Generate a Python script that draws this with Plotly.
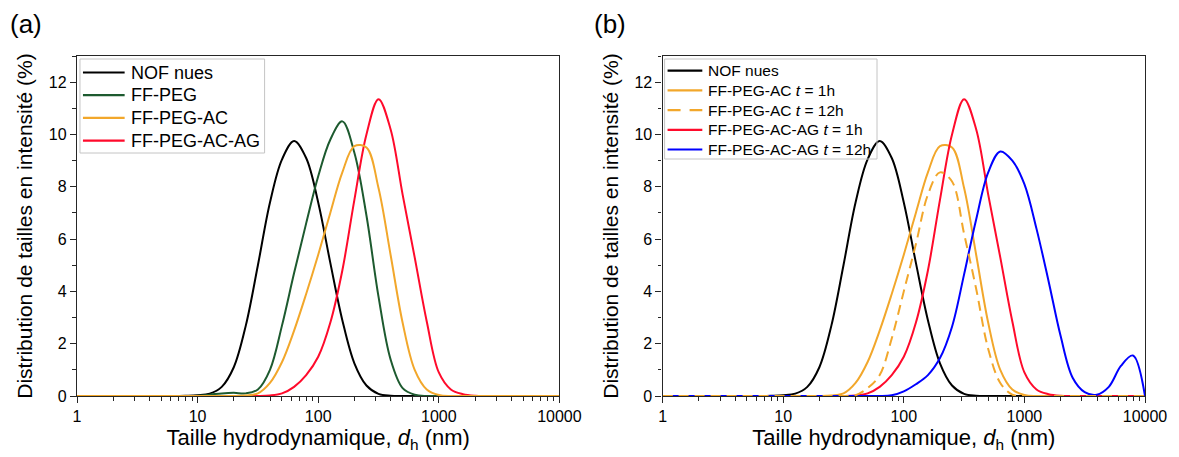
import plotly.graph_objects as go
from plotly.subplots import make_subplots

# Hydrodynamic diameter grid (nm), 0.1-decade steps from 1 to 10000
d_nm = [1, 1.259, 1.585, 1.995, 2.512, 3.162, 3.981, 5.012, 6.310, 7.943,
        10, 12.59, 15.85, 19.95, 25.12, 31.62, 39.81, 50.12, 63.10, 79.43,
        100, 125.9, 158.5, 199.5, 251.2, 316.2, 398.1, 501.2, 631.0, 794.3,
        1000, 1259, 1585, 1995, 2512, 3162, 3981, 5012, 6310, 7943, 10000]

# Intensity size distributions (%)
nof_nues = [0, 0, 0, 0, 0, 0, 0, 0, 0, 0.01,
            0.03, 0.09, 0.35, 1.1, 2.7, 5.0, 7.4, 9.05, 9.75, 9.1,
            7.4, 5.1, 2.9, 1.25, 0.4, 0.08, 0.01, 0, 0, 0,
            0, 0, 0, 0, 0, 0, 0, 0, 0, 0, 0]
ff_peg = [0, 0, 0, 0, 0, 0, 0, 0, 0, 0,
          0.01, 0.05, 0.1, 0.12, 0.1, 0.25, 1.0, 2.7, 4.7, 6.6,
          8.4, 9.8, 10.5, 9.3, 6.9, 3.8, 1.4, 0.3, 0.05, 0,
          0, 0, 0, 0, 0, 0, 0, 0, 0, 0, 0]
ff_peg_ac_1h = [0, 0, 0, 0, 0, 0, 0, 0, 0, 0,
                0, 0, 0, 0, 0.02, 0.1, 0.5, 1.3, 2.5, 3.9,
                5.4, 7.0, 8.55, 9.55, 9.5, 7.95, 5.4, 2.8, 1.0, 0.25,
                0.04, 0, 0, 0, 0, 0, 0, 0, 0, 0, 0]
ff_peg_ac_12h = [0, 0, 0, 0, 0, 0, 0, 0, 0, 0,
                 0, 0, 0, 0, 0, 0, 0.03, 0.3, 0.8, 2.2,
                 4.0, 5.8, 7.7, 8.55, 8.2, 6.2, 4.1, 1.8, 0.5, 0.05,
                 0, 0, 0, 0, 0, 0, 0, 0, 0, 0, 0]
ff_peg_ac_ag_1h = [0, 0, 0, 0, 0, 0, 0, 0, 0, 0,
                   0, 0, 0, 0, 0, 0, 0.02, 0.1, 0.35, 0.8,
                   1.5, 2.8, 4.8, 7.5, 10.0, 11.35, 10.2, 7.7, 5.3, 2.85,
                   0.9, 0.25, 0.07, 0.01, 0, 0, 0, 0, 0, 0, 0]
ff_peg_ac_ag_12h = [0, 0, 0, 0, 0, 0, 0, 0, 0, 0,
                    0, 0, 0, 0, 0, 0, 0, 0, 0, 0.03,
                    0.18, 0.45, 0.8, 1.45, 2.65, 4.65, 6.75, 8.55, 9.35, 9.0,
                    8.1, 6.4, 4.4, 2.3, 0.7, 0.15, 0.05, 0.35, 1.15, 1.55, 0]

x_tickvals = [1, 10, 100, 1000, 10000]
x_ticktext = ["1", "10", "100", "1000", "10000"]
x_minor = [m * 10 ** e for e in range(4) for m in range(2, 10)]
y_tickvals = [0, 2, 4, 6, 8, 10, 12]

BLACK = "#000000"
GREEN = "#1d5a2f"
ORANGE = "#f2a72b"
RED = "#ff0a2b"
BLUE = "#0000ff"
FONT = "Liberation Sans, Arial, sans-serif"

# Figure geometry (pixels) used to place legend boxes in paper coordinates
W, H = 1179, 457
ML, MR, MT, MB = 77, 26, 56, 61
PW, PH = W - ML - MR, H - MT - MB


def px(x):
    return (x - ML) / PW


def py(y):
    return (H - MB - y) / PH


fig = make_subplots(rows=1, cols=2, horizontal_spacing=0.0966)

# (series, name, color, dash) per panel, in legend order
panel_a = [
    (nof_nues, "NOF nues", BLACK, "solid"),
    (ff_peg, "FF-PEG", GREEN, "solid"),
    (ff_peg_ac_1h, "FF-PEG-AC", ORANGE, "solid"),
    (ff_peg_ac_ag_1h, "FF-PEG-AC-AG", RED, "solid"),
]
panel_b = [
    (nof_nues, "NOF nues", BLACK, "solid"),
    (ff_peg_ac_1h, "FF-PEG-AC <i>t</i> = 1h", ORANGE, "solid"),
    (ff_peg_ac_12h, "FF-PEG-AC <i>t</i> = 12h", ORANGE, "10px,6px"),
    (ff_peg_ac_ag_1h, "FF-PEG-AC-AG <i>t</i> = 1h", RED, "solid"),
    (ff_peg_ac_ag_12h, "FF-PEG-AC-AG <i>t</i> = 12h", BLUE, "solid"),
]
draw_order_a = [0, 1, 3, 2]
draw_order_b = [0, 1, 3, 4, 2]

for col, panel, order in ((1, panel_a, draw_order_a), (2, panel_b, draw_order_b)):
    for i in order:
        y, name, color, dash = panel[i]
        fig.add_trace(go.Scatter(
            x=d_nm, y=y, name=name, mode="lines", showlegend=False,
            line=dict(color=color, width=2, dash=dash, shape="spline", smoothing=1.0),
        ), row=1, col=col)

axis_common = dict(
    showline=True, linecolor="#262626", linewidth=1.3, mirror=True,
    ticks="outside", ticklen=6, tickwidth=1.3, tickcolor="#262626",
    showgrid=False, zeroline=False,
    tickfont=dict(family=FONT, size=16, color="black"),
)

for col in (1, 2):
    fig.update_xaxes(
        type="log", range=[0, 4],
        tickvals=x_tickvals, ticktext=x_ticktext,
        minor=dict(tickvals=x_minor, ticks="outside", ticklen=3.5,
                   tickwidth=1, tickcolor="#262626", showgrid=False),
        title=dict(text="Taille hydrodynamique, <i>d</i><sub>h</sub> (nm)",
                   font=dict(family=FONT, size=22, color="black"), standoff=4),
        row=1, col=col, **axis_common)
    fig.update_yaxes(
        range=[0, 13], tickvals=y_tickvals,
        minor=dict(dtick=1, ticks="outside", ticklen=3.5,
                   tickwidth=1, tickcolor="#262626", showgrid=False),
        title=dict(text="Distribution de tailles en intensité (%)",
                   font=dict(family=FONT, size=21, color="black"), standoff=10),
        row=1, col=col, **axis_common)

shapes = []
annotations = [
    dict(text="(a)", x=px(26), y=py(24), xref="paper", yref="paper",
         xanchor="center", yanchor="middle", showarrow=False,
         font=dict(family=FONT, size=26, color="black")),
    dict(text="(b)", x=px(614), y=py(24), xref="paper", yref="paper",
         xanchor="center", yanchor="middle", showarrow=False,
         font=dict(family=FONT, size=26, color="black")),
]

# Legend boxes: (panel entries, box, line x0, line x1, text x, first row y, row step, font)
legends = [
    (panel_a, (80, 59, 266, 153), 83, 125, 129, 72.5, 22.7, 18),
    (panel_b, (669, 59, 883, 159), 672, 707, 711, 70.7, 19.7, 15.5),
]
for entries, (bx0, by0, bx1, by1), lx0, lx1, tx, ry0, rstep, fs in legends:
    shapes.append(dict(type="rect", xref="paper", yref="paper",
                       x0=px(bx0), x1=px(bx1), y0=py(by0), y1=py(by1),
                       line=dict(color="#c4c4c4", width=1), fillcolor="rgba(0,0,0,0)"))
    for k, (_, name, color, dash) in enumerate(entries):
        ry = ry0 + k * rstep
        shapes.append(dict(type="line", xref="paper", yref="paper",
                           x0=px(lx0), x1=px(lx1), y0=py(ry), y1=py(ry),
                           line=dict(color=color, width=2.2,
                                     dash="13px,9px" if dash != "solid" else "solid")))
        annotations.append(dict(text=name, x=px(tx), y=py(ry), xref="paper", yref="paper",
                                xanchor="left", yanchor="middle", showarrow=False,
                                font=dict(family=FONT, size=fs, color="black")))

fig.update_layout(
    width=W, height=H,
    margin=dict(l=ML, r=MR, t=MT, b=MB),
    plot_bgcolor="white", paper_bgcolor="white",
    font=dict(family=FONT, color="black"),
    showlegend=False,
    shapes=shapes,
    annotations=annotations,
)

fig.write_html("out.html", config={"displayModeBar": False},
               post_script="document.body.style.margin='0px';")
